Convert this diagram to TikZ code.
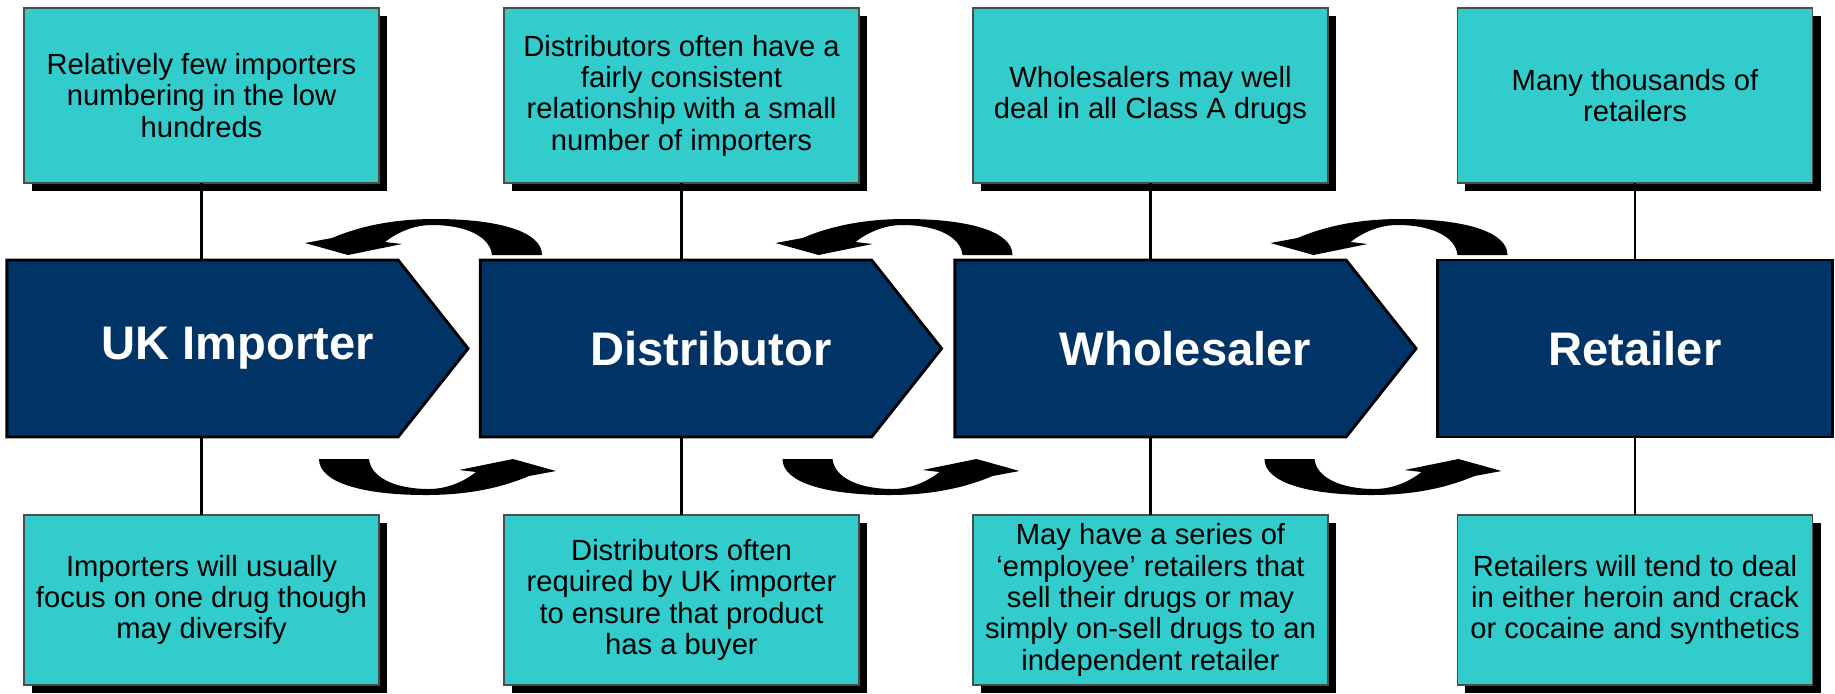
\documentclass[tikz,border=0pt]{standalone}
\usepackage{fontspec}
\setmainfont{Liberation Sans}
\usetikzlibrary{shadows,backgrounds}
\definecolor{navy}{RGB}{0,51,102}
\definecolor{notecyan}{RGB}{51,204,204}

\begin{document}
\begin{tikzpicture}[
  x=0.01cm,y=-0.01cm,
  note/.style={draw=black!70,line width=0.5pt,fill=notecyan,minimum width=3.55cm,
    align=center,inner sep=0pt,outer sep=0pt,font=\fontsize{8.3}{8.9}\selectfont,
    drop shadow={shadow xshift=0.08cm,shadow yshift=-0.08cm,fill=black,opacity=1}},
  stage/.style={minimum width=4.61cm,minimum height=1.77cm,inner sep=0pt,outer sep=0pt,
    text=white,font=\fontsize{13.4}{16}\selectfont\bfseries},
  stagefill/.style={draw=black,line width=0.8pt,fill=navy},
  link/.style={line width=0.6pt}
]
\useasboundingbox (0,0) rectangle (1835,693);

% notes above the chain
\node[note,minimum height=1.75cm] (t1) at (201.5,95.5) {Relatively few importers\\numbering in the low\\hundreds};
\node[note,minimum height=1.75cm] (t2) at (681.5,95.5) {Distributors often have a\\fairly consistent\\relationship with a small\\number of importers};
\node[note,minimum height=1.75cm] (t3) at (1150.5,95.5) {Wholesalers may well\\deal in all Class A drugs};
\node[note,minimum height=1.75cm] (t4) at (1635,95.5) {Many thousands of\\retailers};

% the chain
\node[stage] (imp) at (237.5,348.5) {UK Importer};
\node[stage] (dist) at (711,348.5) {Distributor};
\node[stage] (whole) at (1185.5,348.5) {Wholesaler};
\node[stage,stagefill,minimum width=3.94cm] (ret) at (1635,348.5) {Retailer};
\begin{scope}[on background layer]
  \foreach \n in {imp,dist,whole}
    \draw[stagefill] (\n.north west) -- ([xshift=-0.7cm]\n.north east) -- (\n.east)
      -- ([xshift=-0.7cm]\n.south east) -- (\n.south west) -- cycle;
\end{scope}

% notes below the chain
\node[note,minimum height=1.70cm] (b1) at (201.5,600) {Importers will usually\\focus on one drug though\\may diversify};
\node[note,minimum height=1.70cm] (b2) at (681.5,600) {Distributors often\\required by UK importer\\to ensure that product\\has a buyer};
\node[note,minimum height=1.70cm] (b3) at (1150.5,600) {May have a series of\\‘employee’ retailers that\\sell their drugs or may\\simply on-sell drugs to an\\independent retailer};
\node[note,minimum height=1.70cm] (b4) at (1635,600) {Retailers will tend to deal\\in either heroin and crack\\or cocaine and synthetics};

\draw[link] (t1.south) -- (t1.south |- imp.north);
\draw[link] (t2.south) -- (t2.south |- dist.north);
\draw[link] (t3.south) -- (t3.south |- whole.north);
\draw[link] (t4.south) -- (ret.north);
\draw[link] (b1.north) -- (b1.north |- imp.south);
\draw[link] (b2.north) -- (b2.north |- dist.south);
\draw[link] (b3.north) -- (b3.north |- whole.south);
\draw[link] (b4.north) -- (ret.south);

% curved swap arrows between the stages
\foreach \cx/\cy/\rot in {423.5/237/0,894/237/0,1389/237/0,437.5/477/180,901/477/180,1383/477/180}
  \fill[shift={(\cx,\cy)},rotate=\rot] (-118.5,6) -- (-91.5,1)
    .. controls (-58.5,-13) and (-23.5,-18) .. (11.5,-18)
    .. controls (76.5,-18) and (118.5,-5) .. (118.5,18) -- (68.5,18)
    .. controls (66.5,-1) and (41.5,-12) .. (8.5,-12)
    .. controls (-11.5,-12) and (-28.5,-3) .. (-38.5,5) -- (-21.5,7) -- (-75.5,18) -- cycle;
\end{tikzpicture}
\end{document}
